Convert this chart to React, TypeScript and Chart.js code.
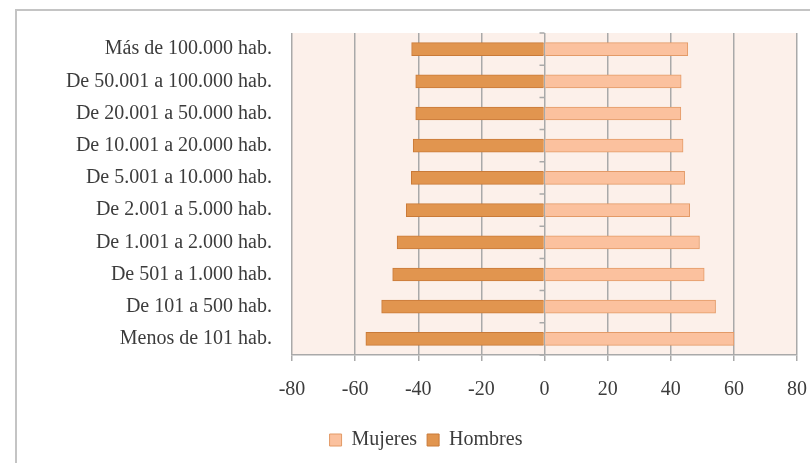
import React, { useEffect, useRef } from "react";
import { Chart, registerables } from "chart.js";

Chart.register(...registerables);

const categories = [
  "Más de 100.000 hab.",
  "De 50.001 a 100.000 hab.",
  "De 20.001 a 50.000 hab.",
  "De 10.001 a 20.000 hab.",
  "De 5.001 a 10.000 hab.",
  "De 2.001 a 5.000 hab.",
  "De 1.001 a 2.000 hab.",
  "De 501 a 1.000 hab.",
  "De 101 a 500 hab.",
  "Menos de 101 hab.",
];

const mujeres = [45.4, 43.3, 43.2, 43.9, 44.4, 46.0, 49.1, 50.6, 54.2, 60.0];
const hombres = [-42.1, -40.8, -40.8, -41.6, -42.2, -43.8, -46.7, -48.1, -51.6, -56.6];

const xMin = -80;
const xMax = 80;
const xStep = 20;

const FONT = "'Liberation Serif', 'Times New Roman', serif";
const TEXT = "#3c3c3c";
const GRID = "#a9a9a9";

const plotBg = {
  id: "plotBg",
  beforeDraw(chart: any) {
    const { ctx, chartArea } = chart;
    ctx.save();
    ctx.fillStyle = "#fcf0ea";
    ctx.fillRect(chartArea.left, chartArea.top, chartArea.right - chartArea.left, chartArea.bottom - chartArea.top);
    ctx.restore();
  },
};

// zero axis with category-boundary tick marks pointing left
const zeroAxis = {
  id: "zeroAxis",
  beforeDatasetsDraw(chart: any) {
    const { ctx, chartArea, scales } = chart;
    const x0 = scales.x.getPixelForValue(0);
    const y = scales.y;
    const n = categories.length;
    const step = (chartArea.bottom - chartArea.top) / n;
    ctx.save();
    ctx.strokeStyle = GRID;
    ctx.lineWidth = 1.5;
    ctx.beginPath();
    for (let i = 0; i <= n; i++) {
      const yy = i < n ? y.getPixelForValue(i) - step / 2 : y.getPixelForValue(n - 1) + step / 2;
      ctx.moveTo(x0, yy);
      ctx.lineTo(x0 - 5, yy);
    }
    ctx.stroke();
    ctx.restore();
  },
};

export default function App() {
  const ref = useRef<HTMLCanvasElement | null>(null);

  useEffect(() => {
    if (!ref.current) return;
    const chart = new Chart(ref.current, {
      type: "bar",
      data: {
        labels: categories,
        datasets: [
          {
            label: "Mujeres",
            data: mujeres,
            backgroundColor: "#fbc19e",
            borderColor: "#e39a67",
            borderWidth: 1,
            barThickness: 13,
            stack: "s",
          },
          {
            label: "Hombres",
            data: hombres,
            backgroundColor: "#e1954f",
            borderColor: "#c97a38",
            borderWidth: 1,
            barThickness: 13,
            stack: "s",
          },
        ],
      },
      options: {
        indexAxis: "y",
        animation: false,
        responsive: false,
        devicePixelRatio: 1,
        layout: { padding: { left: 42, right: 0, top: 33, bottom: 3 } },
        plugins: {
          tooltip: { enabled: false },
          legend: {
            position: "bottom",
            labels: {
              boxWidth: 12,
              boxHeight: 12,
              padding: 10,
              color: TEXT,
              font: { family: FONT, size: 20 },
            },
          },
        },
        scales: {
          x: {
            stacked: true,
            min: xMin,
            max: xMax,
            ticks: { stepSize: xStep, color: TEXT, font: { family: FONT, size: 20 }, padding: 17, maxRotation: 0 },
            grid: { color: GRID, lineWidth: 1.5, tickLength: 6 },
            border: { color: GRID, width: 1.5 },
            afterFit: (s: any) => {
              s.height = 65;
              s.paddingRight = 13;
              s.paddingLeft = 0;
            },
          },
          y: {
            stacked: true,
            position: "left",
            grid: { display: false },
            border: { display: false },
            ticks: { color: TEXT, font: { family: FONT, size: 20 }, padding: 12 },
            afterFit: (s: any) => {
              s.width = 250;
            },
          },
        },
      },
      plugins: [plotBg, zeroAxis],
    } as any);
    return () => chart.destroy();
  }, []);

  return (
    <div style={{ position: "fixed", left: 0, top: 0, width: 810, height: 463, background: "#fff", overflow: "hidden" }}>
      <div
        style={{
          position: "absolute",
          left: 15,
          top: 9,
          width: 900,
          height: 600,
          borderTop: "2px solid #c4c4c4",
          borderLeft: "2px solid #c4c4c4",
        }}
      />
      <canvas ref={ref} width={810} height={463} style={{ position: "absolute", left: 0, top: 0, width: 810, height: 463 }} />
    </div>
  );
}
